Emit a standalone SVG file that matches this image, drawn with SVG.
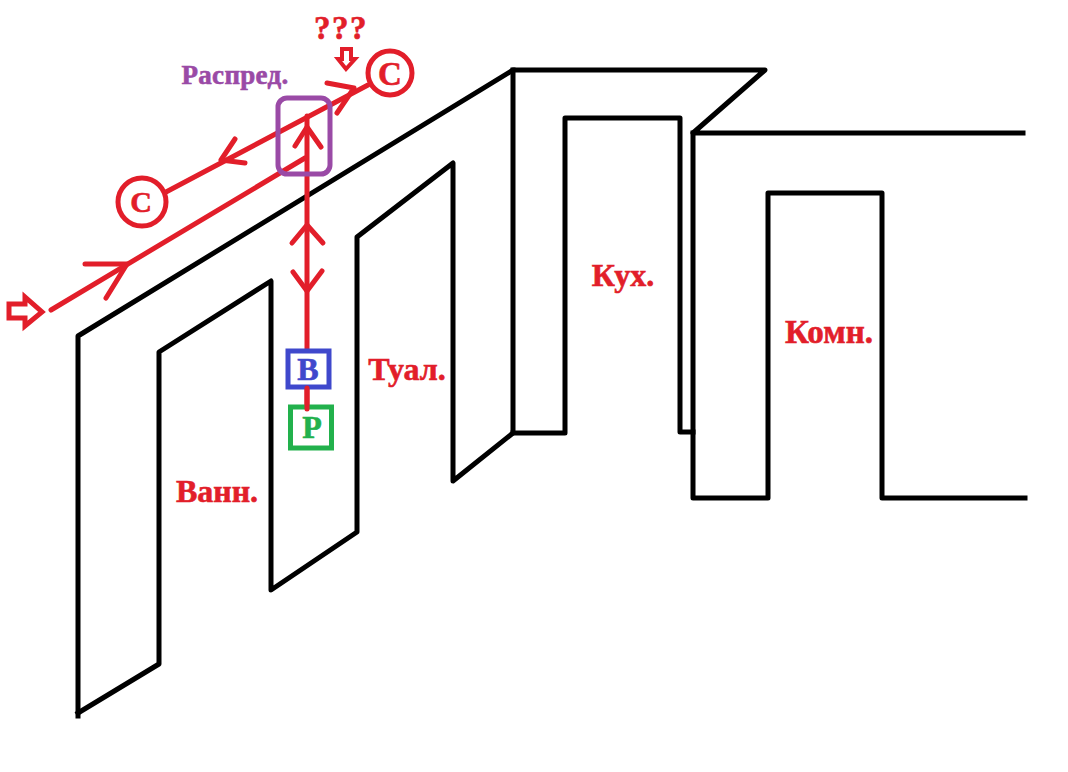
<svg xmlns="http://www.w3.org/2000/svg" width="1068" height="772" viewBox="0 0 1068 772">
<style>
.w{fill:none;stroke:#000;stroke-width:5;stroke-linejoin:round;stroke-linecap:square}
.r{fill:none;stroke:#e21e2a;stroke-width:5;stroke-linecap:round;stroke-linejoin:round}
.t{font-family:"Liberation Serif",serif;font-weight:bold;fill:#e21e2a;stroke:#e21e2a;stroke-width:.6;text-anchor:middle}
.b{font-family:"Liberation Serif",serif;font-weight:bold;font-size:32px;stroke-width:.6;text-anchor:middle}
</style>
<rect width="1068" height="772" fill="#fff"/>
<g id="walls">
<path class="w" d="M78 716V336L513 70H765L693 133H1023"/>
<path class="w" d="M78 713L159 664V352L271 281V590L357 532V237L453 163V481L513 433V70"/>
<path class="w" d="M513 433H565V118H680V432H693"/>
<path class="w" d="M693 133V498H768V193H882V498H1025"/>
</g>
<g id="connectors">
<path class="r" d="M51 310L305 158"/>
<path class="r" d="M85 264H127L106 298"/>
<path class="r" d="M166 192L368 85"/>
<path class="r" d="M327 83L354 88L337 113"/>
<path class="r" d="M235 139L221 160L245 163"/>
<path class="r" d="M307 408V116"/>
<path class="r" d="M295 146L307 127L321 147"/>
<path class="r" d="M292 243L307 225L323 243"/>
<path class="r" d="M293 272L307 291L322 271"/>
</g>
<g id="input-arrow"><path d="M9 304H25V297L42 312L25 326V318H9Z" fill="#fff" stroke="#e21e2a" stroke-width="5"/></g>
<g id="question-arrow"><path d="M342 49H351V59H355L346 69L338 59H342Z" fill="#fff" stroke="#e21e2a" stroke-width="4"/></g>
<g id="c-right"><circle cx="390" cy="73" r="22" fill="#fff" stroke="#e21e2a" stroke-width="5"/><text class="t" x="390" y="85" font-size="33">С</text></g>
<g id="c-left"><circle cx="142" cy="202" r="24" fill="#fff" stroke="#e21e2a" stroke-width="5"/><text class="t" x="141" y="212" font-size="30">С</text></g>
<g id="raspred"><rect x="278" y="98" width="52" height="76" rx="9" fill="none" stroke="#9a4aa6" stroke-width="5"/><text x="235" y="84" font-family="Liberation Serif,serif" font-weight="bold" font-size="27" letter-spacing=".3" fill="#9a4aa6" stroke="#9a4aa6" stroke-width=".6" text-anchor="middle">Распред.</text></g>
<g id="valve-b"><rect x="288" y="351" width="41" height="36" fill="#fff" stroke="#3f48cc" stroke-width="5"/><text class="b" x="308" y="380" fill="#3f48cc" stroke="#3f48cc">В</text></g>
<g id="pump-p"><rect x="290.500" y="407" width="41" height="41" fill="#fff" stroke="#22b14c" stroke-width="5"/><text class="b" x="312" y="438" fill="#22b14c" stroke="#22b14c">Р</text></g>
<path class="r" d="M307 388V409"/>
<text class="t" x="341" y="39" font-size="33" letter-spacing="1.500">???</text>
<text class="t" x="217" y="502" font-size="32">Ванн.</text>
<text class="t" x="407" y="380" font-size="32">Туал.</text>
<text class="t" x="623" y="286" font-size="32">Кух.</text>
<text class="t" x="829" y="343" font-size="33">Комн.</text>
</svg>
